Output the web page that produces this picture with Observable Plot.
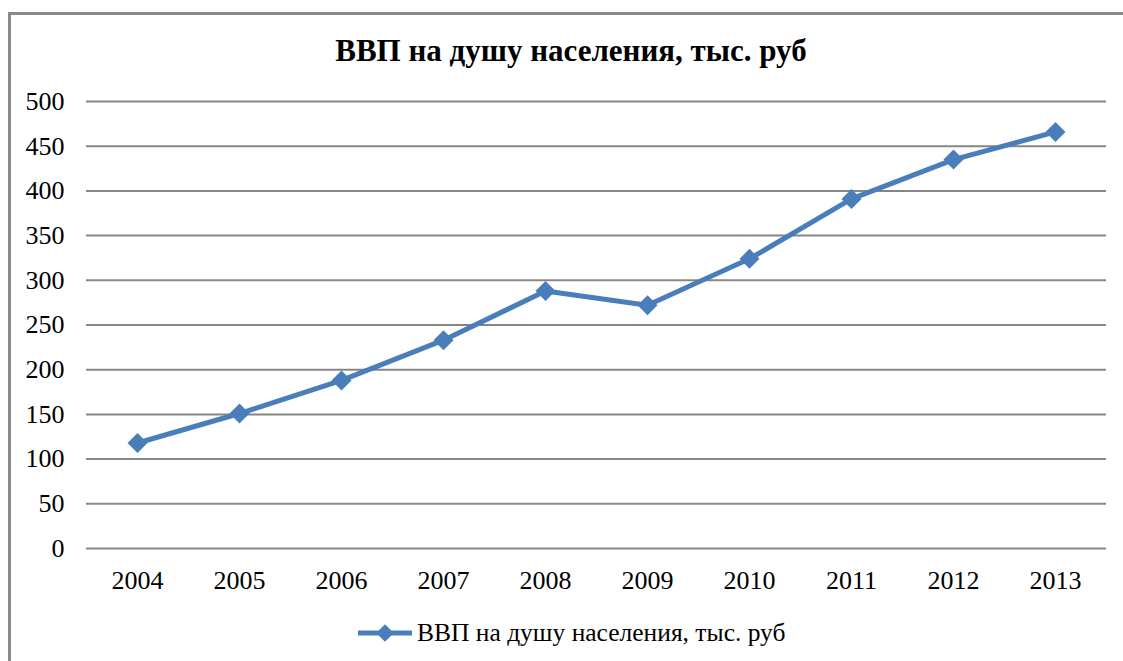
<!DOCTYPE html>
<html>
<head>
<meta charset="utf-8">
<script src="https://cdn.jsdelivr.net/npm/d3@7"></script>
<script src="https://cdn.jsdelivr.net/npm/@observablehq/plot@0.6"></script>
<style>
  html, body { margin: 0; padding: 0; background: #fff; }
  body { width: 1123px; height: 661px; position: relative; overflow: hidden; font-family: 'Liberation Serif', 'Times New Roman', serif; }
  #frame { position: absolute; left: 8px; top: 12px; width: 1200px; height: 700px; border-top: 3px solid #8a8a8a; border-left: 3px solid #8a8a8a; }
  #title { position: absolute; left: 0; top: 36px; width: 1142px; text-align: center; font-weight: bold; font-size: 31px; line-height: 30px; color: #000; font-family: 'Liberation Serif', 'Times New Roman', serif; }
  #chart { position: absolute; left: 0; top: 85px; }
  #chart svg text { font-family: 'Liberation Serif', 'Times New Roman', serif; }
  #legend { position: absolute; left: 356px; top: 618px; height: 30px; display: flex; align-items: center; font-size: 25.5px; color: #000; font-family: 'Liberation Serif', 'Times New Roman', serif; }
  #legend svg { margin-right: 3px; }
</style>
</head>
<body>
<div id="frame"></div>
<div id="title"></div>
<div id="chart"></div>
<div id="legend"></div>
<script>
const titleText = "ВВП на душу населения, тыс. руб";
const seriesName = "ВВП на душу населения, тыс. руб";
const years = ["2004", "2005", "2006", "2007", "2008", "2009", "2010", "2011", "2012", "2013"];
const gdpPerCapita = [118, 151, 188, 233, 288, 272, 324, 391, 435, 466];
const yTicks = [0, 50, 100, 150, 200, 250, 300, 350, 400, 450, 500];
const lineColor = "#4a7ebb";

const data = years.map((y, i) => ({year: y, value: gdpPerCapita[i]}));

document.getElementById("title").textContent = titleText;

const chart = Plot.plot({
  width: 1123,
  height: 515,
  marginLeft: 86,
  marginRight: 17,
  marginTop: 16,
  marginBottom: 52,
  style: { fontFamily: "'Liberation Serif', 'Times New Roman', serif", fontSize: "26px", color: "#000", background: "transparent", overflow: "visible" },
  x: { type: "point", domain: years, padding: 0.5 },
  y: { domain: [0, 500] },
  marks: [
    Plot.gridY(yTicks, { stroke: "#868686", strokeOpacity: 1, strokeWidth: 2 }),
    Plot.axisY(yTicks, { tickSize: 0, tickPadding: 22, label: null, fontSize: 26 }),
    Plot.axisX({ tickSize: 0, tickPadding: 22, label: null, fontSize: 26 }),
    Plot.line(data, { x: "year", y: "value", stroke: lineColor, strokeWidth: 5 }),
    Plot.dot(data, { x: "year", y: "value", symbol: "diamond2", r: 9, fill: lineColor, stroke: null })
  ]
});
document.getElementById("chart").appendChild(chart);

// legend
const leg = document.getElementById("legend");
const ls = d3.create("svg").attr("width", 58).attr("height", 30);
ls.append("line").attr("x1", 2).attr("x2", 56).attr("y1", 15).attr("y2", 15).attr("stroke", lineColor).attr("stroke-width", 5);
ls.append("path").attr("d", d3.symbol(d3.symbolDiamond2, 200)()).attr("transform", "translate(29,15)").attr("fill", lineColor);
leg.appendChild(ls.node());
const lt = document.createElement("span");
lt.textContent = seriesName;
leg.appendChild(lt);
</script>
</body>
</html>
